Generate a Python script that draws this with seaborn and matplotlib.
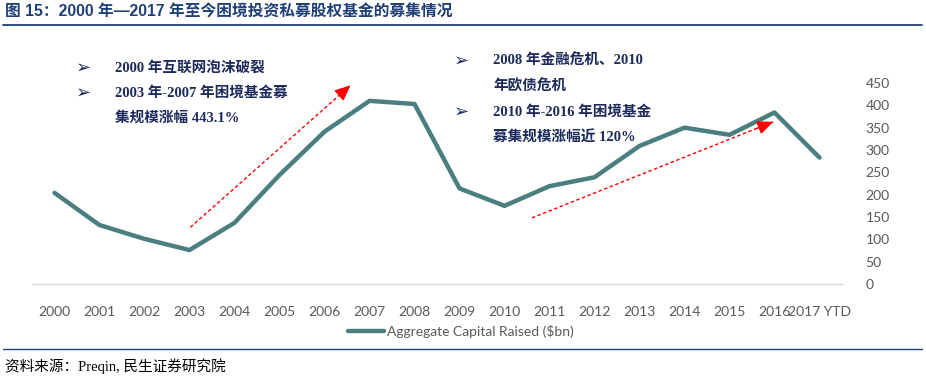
import numpy as np
import pandas as pd
import matplotlib
matplotlib.use("Agg")
import matplotlib.pyplot as plt
import seaborn as sns

years = ["2000", "2001", "2002", "2003", "2004", "2005", "2006", "2007", "2008",
         "2009", "2010", "2011", "2012", "2013", "2014", "2015", "2016", "2017 YTD"]
capital = [204, 132, 101, 76, 137, 244, 341, 410, 403, 214, 175, 219, 239, 309,
           350, 334, 384, 283]
y_ticks = [0, 50, 100, 150, 200, 250, 300, 350, 400, 450]
series_name = "Aggregate Capital Raised ($bn)"

title = "图 15：2000 年—2017 年至今困境投资私募股权基金的募集情况"
source = "资料来源：Preqin, 民生证券研究院"
notes_left = ["2000 年互联网泡沫破裂", "2003 年-2007 年困境基金募", "集规模涨幅 443.1%"]
notes_right = ["2008 年金融危机、2010", "年欧债危机", "2010 年-2016 年困境基金", "募集规模涨幅近 120%"]

sns.set_theme(style="white")
plt.rcParams['font.family'] = ['Lato', 'Noto Sans CJK SC', 'DejaVu Sans']

W, H = 926, 379
fig = plt.figure(figsize=(W / 100, H / 100), dpi=100)
ax = fig.add_axes([32 / W, 1 - 284 / H, (842 - 32) / W, (284 - 83) / H])

df = pd.DataFrame({"pos": np.arange(len(years)), "value": capital, "series": series_name})
line_color = "#4A7E80"
sns.lineplot(data=df, x="pos", y="value", hue="series", palette=[line_color],
             linewidth=3.2, ax=ax, legend=False, sort=False)

ax.set_xlim(-0.5, len(years) - 0.5)
ax.set_ylim(0, 450)
ax.set_xticks(np.arange(len(years)))
ax.set_xticklabels(years)
ax.set_yticks(y_ticks)
ax.yaxis.tick_right()
ax.set_xlabel("")
ax.set_ylabel("")
for s in ["top", "left", "right"]:
    ax.spines[s].set_visible(False)
ax.spines["bottom"].set_color("#D9D9D9")
ax.spines["bottom"].set_linewidth(1.0)
ax.tick_params(axis="x", length=0, pad=16, labelsize=10, labelcolor="#595959")
ax.tick_params(axis="y", length=0, pad=17, labelsize=10, labelcolor="#595959")
ax.grid(False)
ax.patch.set_alpha(0)

# Red dashed arrows
def dashed_arrow(x0, y0, x1, y1):
    ax.plot([x0, x1], [y0, y1], color="#FF0000", linestyle=(0, (2.5, 1.8)), linewidth=1.0,
            zorder=3)
    ax.annotate("", xy=(x1, y1), xytext=(x0 + (x1 - x0) * 0.93, y0 + (y1 - y0) * 0.93),
                arrowprops=dict(arrowstyle="-|>,head_length=0.8,head_width=0.35",
                                color="#FF0000", lw=1.0, shrinkA=0, shrinkB=0),
                zorder=4)

dashed_arrow(3.02, 127, 6.58, 445)
dashed_arrow(10.61, 148, 15.97, 363)

# Annotations
note_color = "#1C2A5C"
note_font = dict(family=['Liberation Serif', 'Noto Sans CJK SC'], fontsize=10.5,
                 fontweight="bold", color=note_color, va="center", ha="left")
bullet_font = dict(family=['DejaVu Sans'], fontsize=13, fontweight="bold",
                   color=note_color, va="center", ha="left")

def fy(py):
    return 1 - py / H

fig.text(76 / W, fy(68), "➢", **bullet_font)
fig.text(115 / W, fy(68), notes_left[0], **note_font)
fig.text(76 / W, fy(93), "➢", **bullet_font)
fig.text(115 / W, fy(93), notes_left[1], **note_font)
fig.text(115 / W, fy(118), notes_left[2], **note_font)

fig.text(454 / W, fy(61), "➢", **bullet_font)
fig.text(493 / W, fy(61), notes_right[0], **note_font)
fig.text(493 / W, fy(87), notes_right[1], **note_font)
fig.text(454 / W, fy(112), "➢", **bullet_font)
fig.text(493 / W, fy(112), notes_right[2], **note_font)
fig.text(493 / W, fy(138), notes_right[3], **note_font)

# Legend
handle = plt.Line2D([], [], color=line_color, linewidth=3.2)
fig.legend([handle], [series_name], loc="center", bbox_to_anchor=(461 / W, fy(331)),
           frameon=False, fontsize=10, labelcolor="#595959", handlelength=2.6,
           handletextpad=0.2, borderaxespad=0, borderpad=0)

# Title and rules
fig.text(5 / W, fy(12), title, fontsize=11.3, fontweight="bold", color="#1F3F77",
         va="center", ha="left", family=['Liberation Sans', 'Noto Sans CJK SC'])
fig.add_artist(plt.Line2D([3 / W, 922 / W], [fy(24.5), fy(24.5)], color="#1F3F77",
                          linewidth=1.3))
fig.add_artist(plt.Line2D([3 / W, 922 / W], [fy(349), fy(349)], color="#1F3F77",
                          linewidth=1.0))
fig.text(5 / W, fy(366), source, fontsize=10.5, color="#000000", va="center", ha="left",
         family=['Liberation Serif', 'Noto Sans CJK SC'])

fig.savefig("out.png", dpi=100, facecolor="white")
